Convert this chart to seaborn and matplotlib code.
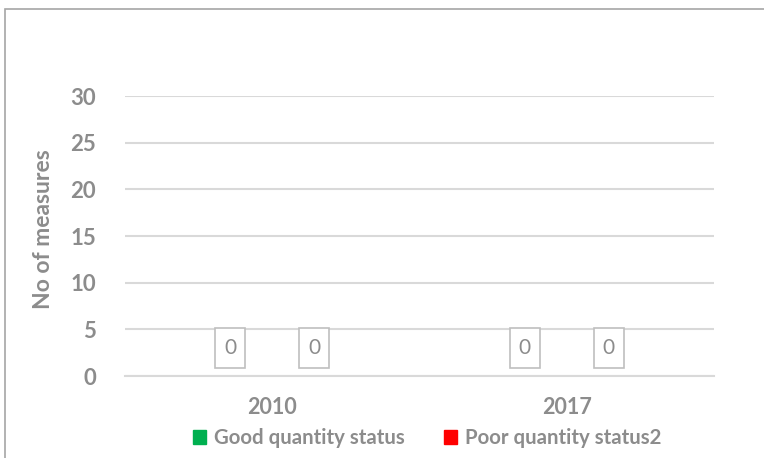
import matplotlib
matplotlib.use("Agg")
import matplotlib.pyplot as plt
import matplotlib.patches as mpatches
from matplotlib.path import Path
import seaborn as sns
import pandas as pd

years = ["2010", "2017"]
series = ["Good quantity status", "Poor quantity status2"]
good_values = [0, 0]
poor_values = [0, 0]
colors = ["#00B050", "#FF0000"]
y_ticks = [0, 5, 10, 15, 20, 25, 30]

df = pd.DataFrame({
    "year": years * 2,
    "series": [series[0]] * len(years) + [series[1]] * len(years),
    "value": good_values + poor_values,
})

sns.set_theme(style="white")
plt.rcParams["font.family"] = ["Lato", "DejaVu Sans"]
text_color = "#8C8C8C"
grid_color = "#D9D9D9"


def label_box(x0, y0, width, height, mutation_size):
    """Rectangle around a data label, taller than it is wide."""
    cx = x0 + width / 2
    cy = y0 + height / 2
    hw = 0.72 * mutation_size
    hh = 0.97 * mutation_size
    verts = [(cx - hw, cy - hh), (cx + hw, cy - hh), (cx + hw, cy + hh),
             (cx - hw, cy + hh), (cx - hw, cy - hh)]
    codes = [Path.MOVETO, Path.LINETO, Path.LINETO, Path.LINETO, Path.CLOSEPOLY]
    return Path(verts, codes)


fig = plt.figure(figsize=(7.64, 4.58), dpi=100)
ax = fig.add_axes([0.1636, 0.179, 0.771, 0.611])

sns.barplot(data=df, x="year", y="value", hue="series", palette=colors,
            width=0.57, gap=0, ax=ax, legend=False, errorbar=None)

ax.set_ylim(0, 30)
ax.set_yticks(y_ticks)
ax.set_yticklabels([str(t) for t in y_ticks])
ax.yaxis.grid(True, color=grid_color, linewidth=1.5)
ax.set_axisbelow(True)
for s in ["top", "right", "left"]:
    ax.spines[s].set_visible(False)
ax.spines["bottom"].set_color(grid_color)
ax.spines["bottom"].set_linewidth(1.5)
ax.tick_params(axis="y", length=0, colors=text_color, labelsize=16, pad=21)
ax.tick_params(axis="x", length=0, colors=text_color, labelsize=15.5, pad=15)
for lbl in ax.get_xticklabels() + ax.get_yticklabels():
    lbl.set_fontweight("bold")
    lbl.set_color(text_color)
ax.set_xlabel("")
ax.set_ylabel("No of measures", color=text_color, fontsize=16.5,
              fontweight="bold")
ax.yaxis.set_label_coords(-0.12, 0.525)

# value labels in boxes above each bar
for container in ax.containers:
    for bar in container:
        h = bar.get_height()
        ax.annotate(f"{h:g}", (bar.get_x() + bar.get_width() / 2, h),
                    xytext=(0, 20), textcoords="offset points",
                    ha="center", va="center", fontsize=15,
                    color=text_color,
                    bbox=dict(boxstyle=label_box, fc="white",
                              ec="#BFBFBF", lw=1.2))

handles = [mpatches.Patch(color=c, label=s) for c, s in zip(colors, series)]
leg = fig.legend(handles=handles, loc="center", ncol=2,
                 bbox_to_anchor=(0.559, 0.043), frameon=False,
                 handlelength=0.65, handleheight=0.65, columnspacing=1.9,
                 handletextpad=0.4, fontsize=14.7)
for t in leg.get_texts():
    t.set_color(text_color)
    t.set_fontweight("bold")

# chart-area border
fig.patches.append(mpatches.Rectangle((5 / 764, -0.1), 1.2, 1 - 9 / 458 + 0.1,
                                      transform=fig.transFigure, fill=False,
                                      ec="#A6A6A6", lw=1.2, clip_on=False))

fig.savefig("out.png", dpi=100)
